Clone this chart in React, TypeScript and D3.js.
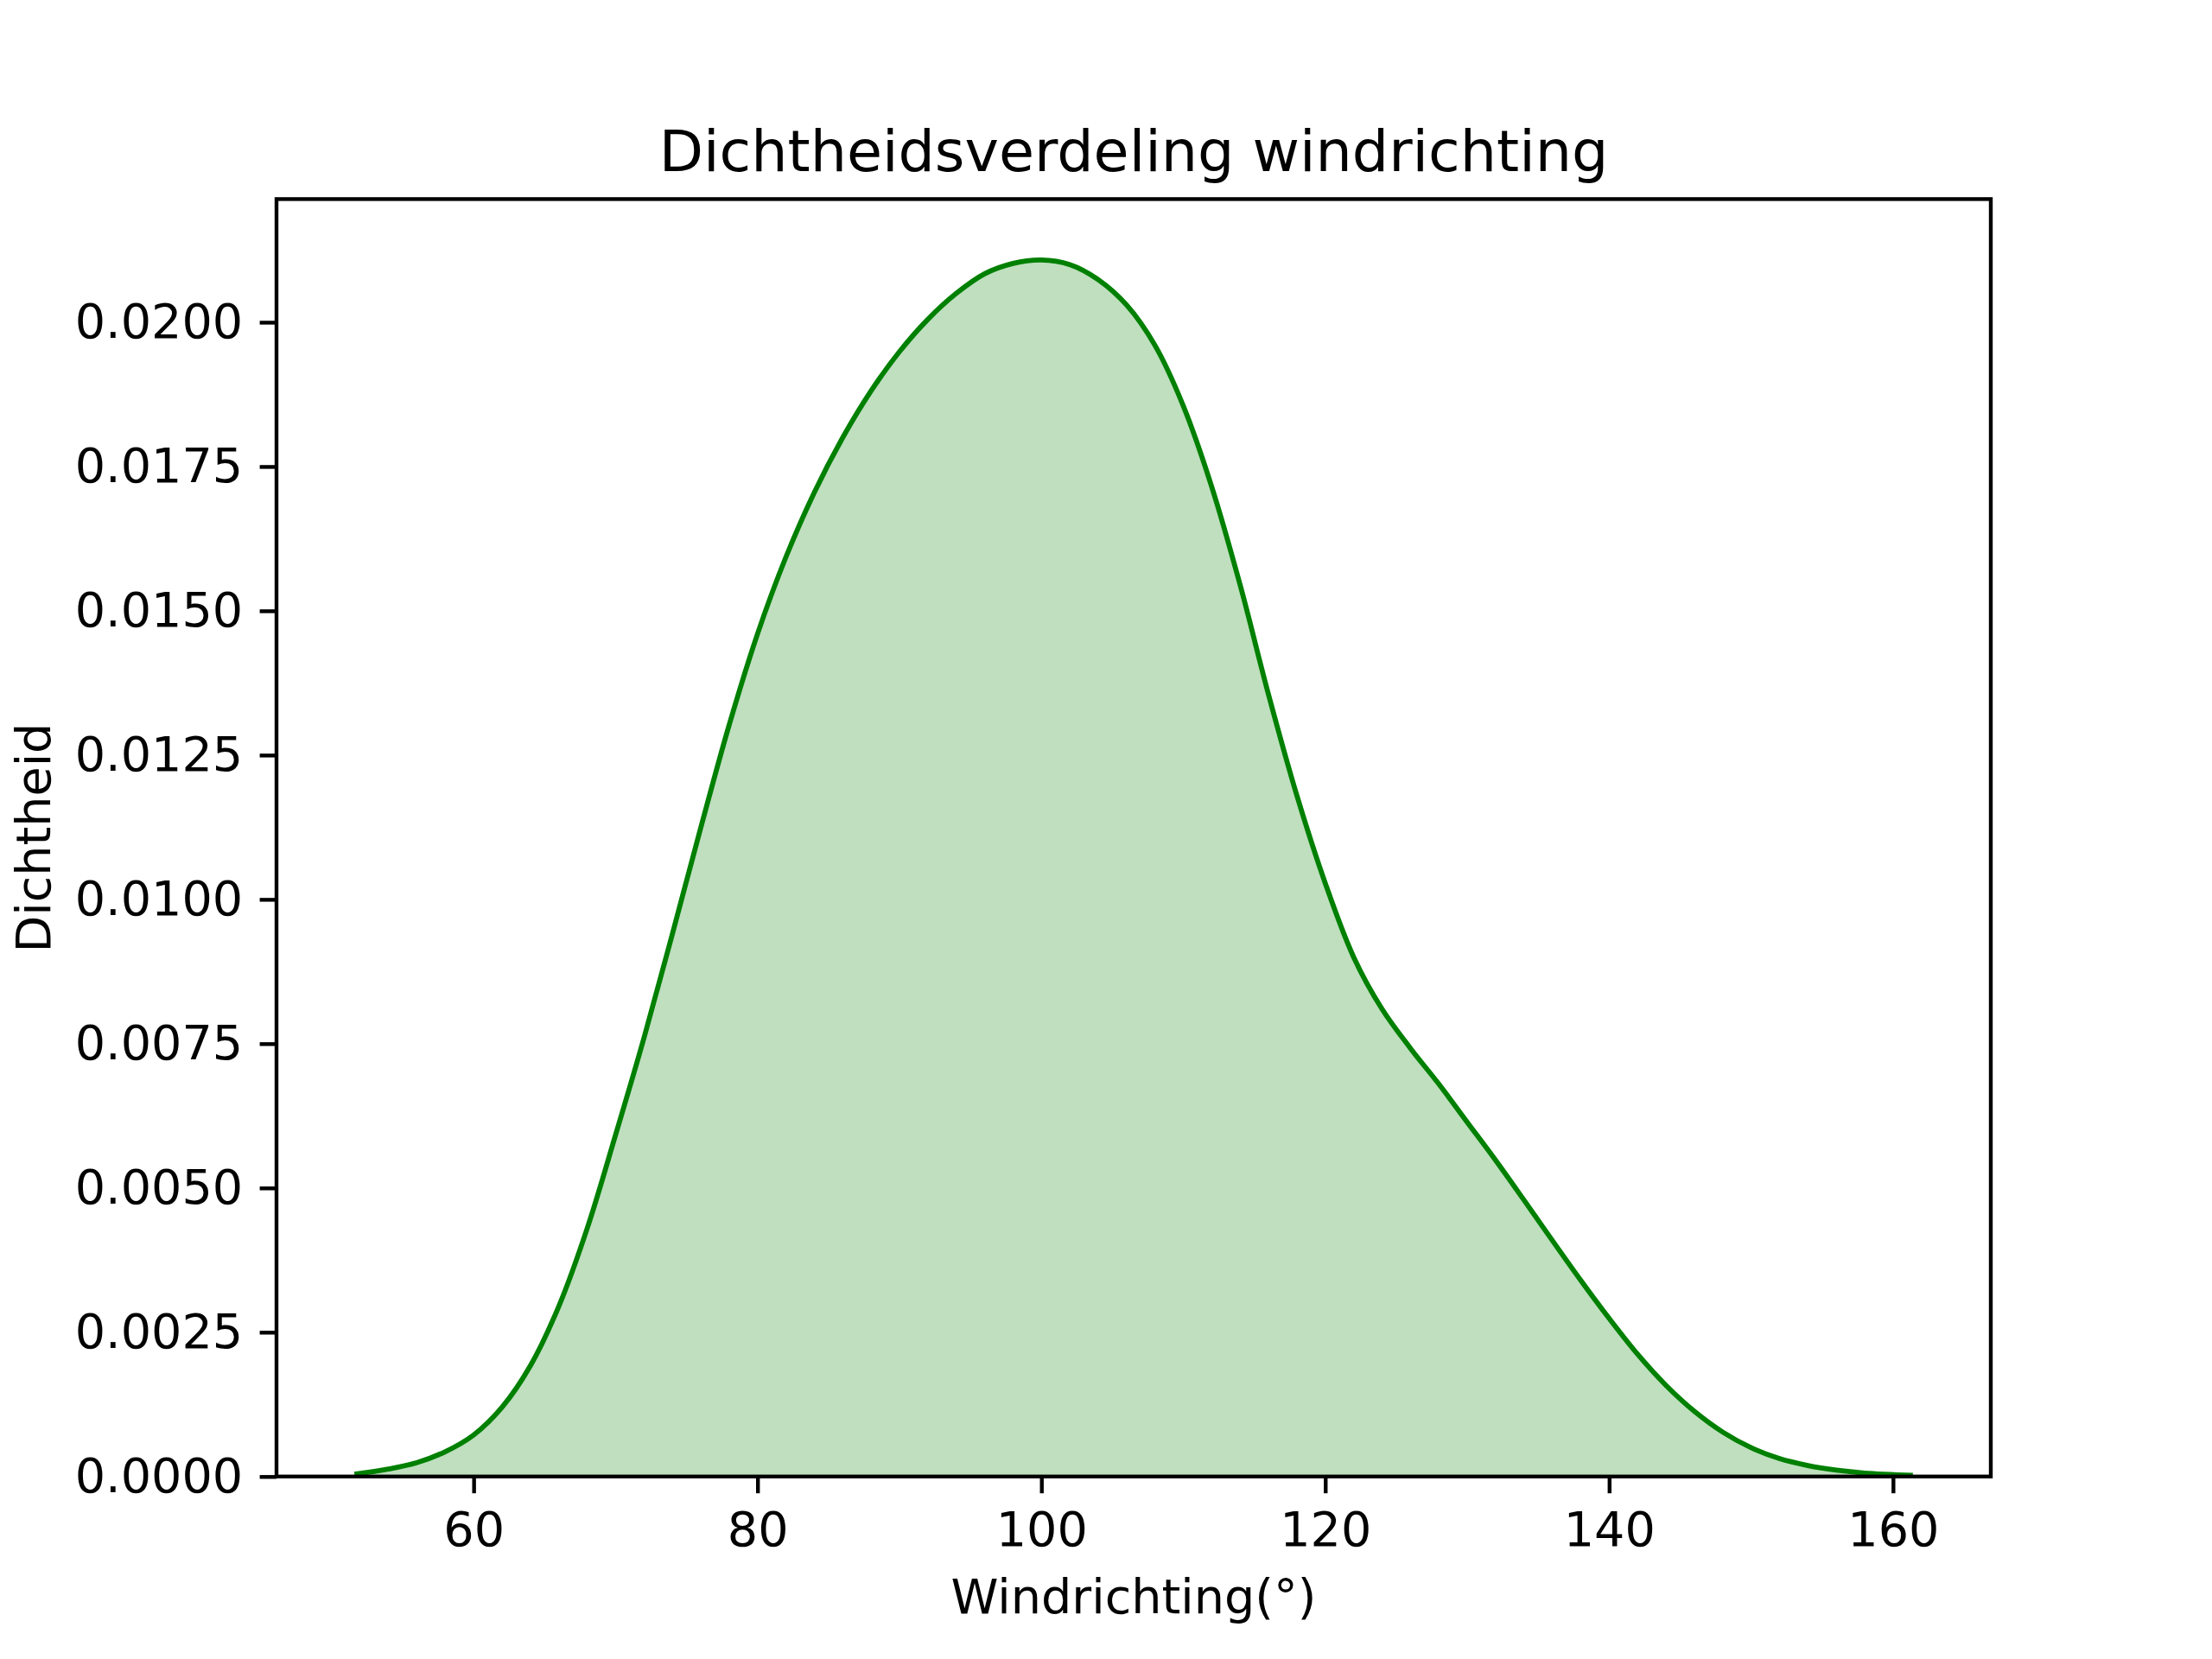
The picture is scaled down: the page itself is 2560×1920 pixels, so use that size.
import React, { useEffect, useRef } from 'react';
import * as d3 from 'd3';

// wind direction (degrees) and estimated kde density
const directions = [51.6, 54, 56, 58, 60, 62, 64, 66, 68, 70, 72, 74, 76, 78, 80, 82, 84, 86, 88, 90,
    92, 94, 96, 98, 100, 102, 104, 106, 108, 110, 112, 114, 116, 118, 120, 122, 124, 126, 128, 130,
    132, 134, 136, 138, 140, 142, 144, 146, 148, 150, 152, 154, 156, 158, 161.4];
const densities = [0.00004, 0.00013, 0.00024, 0.00043, 0.00072, 0.00120, 0.00192, 0.00295, 0.00430, 0.00592,
    0.00760, 0.00940, 0.01124, 0.01302, 0.01460, 0.01593, 0.01705, 0.01800, 0.01881, 0.01949,
    0.02005, 0.02050, 0.02084, 0.02102, 0.02108, 0.02100, 0.02074, 0.02030, 0.01960, 0.01855,
    0.01715, 0.01545, 0.01355, 0.01180, 0.01028, 0.00900, 0.00810, 0.00742, 0.00680, 0.00614,
    0.00548, 0.00479, 0.00409, 0.00340, 0.00274, 0.00212, 0.00158, 0.00113, 0.00077, 0.00050,
    0.00031, 0.00019, 0.00011, 0.00006, 0.00002];

const xTicks = [60, 80, 100, 120, 140, 160];
const yTicks = [0, 0.0025, 0.005, 0.0075, 0.01, 0.0125, 0.015, 0.0175, 0.02];

const title = 'Dichtheidsverdeling windrichting';
const xLabel = 'Windrichting(°)';
const yLabel = 'Dichtheid';

const DensityChart: React.FC = () => {
    const chartRef = useRef<SVGSVGElement>(null);

    useEffect(() => {
        const svg = d3.select(chartRef.current);
        svg.selectAll("*").remove();

        const width = 2560;
        const height = 1920;
        const left = 320, right = 2304, top = 230.4, bottom = 1708.8;
        const font = "DejaVu Sans, Liberation Sans, sans-serif";

        const data = directions.map((d, i) => ({ x: d, y: densities[i] }));

        const xMin = d3.min(directions) as number;
        const xMax = d3.max(directions) as number;
        const pad = (xMax - xMin) * 0.05;
        const x = d3.scaleLinear().domain([xMin - pad, xMax + pad]).range([left, right]);
        const yMax = (d3.max(densities) as number) * 1.05;
        const y = d3.scaleLinear().domain([0, yMax]).range([bottom, top]);

        svg.append("rect").attr("width", width).attr("height", height).attr("fill", "white");

        const area = d3.area<{ x: number; y: number }>()
            .x(d => x(d.x))
            .y0(y(0))
            .y1(d => y(d.y))
            .curve(d3.curveCatmullRom.alpha(0.5));

        const line = d3.line<{ x: number; y: number }>()
            .x(d => x(d.x))
            .y(d => y(d.y))
            .curve(d3.curveCatmullRom.alpha(0.5));

        svg.append("path")
            .datum(data)
            .attr("d", area)
            .attr("fill", "green")
            .attr("fill-opacity", 0.25);

        svg.append("path")
            .datum(data)
            .attr("d", line)
            .attr("fill", "none")
            .attr("stroke", "green")
            .attr("stroke-width", 5.8);

        // frame
        svg.append("rect")
            .attr("x", left)
            .attr("y", top)
            .attr("width", right - left)
            .attr("height", bottom - top)
            .attr("fill", "none")
            .attr("stroke", "black")
            .attr("stroke-width", 4.4);

        const xAxis = svg.append("g")
            .attr("transform", `translate(0,${bottom})`)
            .call(d3.axisBottom(x).tickValues(xTicks).tickSize(19.4).tickPadding(21).tickFormat(d3.format("d")));
        xAxis.select(".domain").remove();
        xAxis.selectAll(".tick line").attr("stroke-width", 4.4);
        xAxis.selectAll(".tick text")
            .attr("font-family", font)
            .attr("font-size", 55.6)
            .attr("fill", "black");

        const yAxis = svg.append("g")
            .attr("transform", `translate(${left},0)`)
            .call(d3.axisLeft(y).tickValues(yTicks).tickSize(19.4).tickPadding(19.4).tickFormat(d3.format(".4f")));
        yAxis.select(".domain").remove();
        yAxis.selectAll(".tick line").attr("stroke-width", 4.4);
        yAxis.selectAll(".tick text")
            .attr("font-family", font)
            .attr("font-size", 55.6)
            .attr("fill", "black");

        svg.append("text")
            .attr("x", (left + right) / 2)
            .attr("y", 198)
            .attr("text-anchor", "middle")
            .attr("font-family", font)
            .attr("font-size", 66.7)
            .text(title);

        svg.append("text")
            .attr("x", (left + right) / 2)
            .attr("y", 1867)
            .attr("text-anchor", "middle")
            .attr("font-family", font)
            .attr("font-size", 55.6)
            .text(xLabel);

        svg.append("text")
            .attr("transform", `translate(58,${(top + bottom) / 2}) rotate(-90)`)
            .attr("text-anchor", "middle")
            .attr("font-family", font)
            .attr("font-size", 55.6)
            .text(yLabel);
    }, []);

    return <svg ref={chartRef} width="2560" height="1920" style={{ display: 'block' }}></svg>;
};

const App: React.FC = () => (
    <>
        <style>{`body { margin: 0; }`}</style>
        <DensityChart />
    </>
);

export default App;
